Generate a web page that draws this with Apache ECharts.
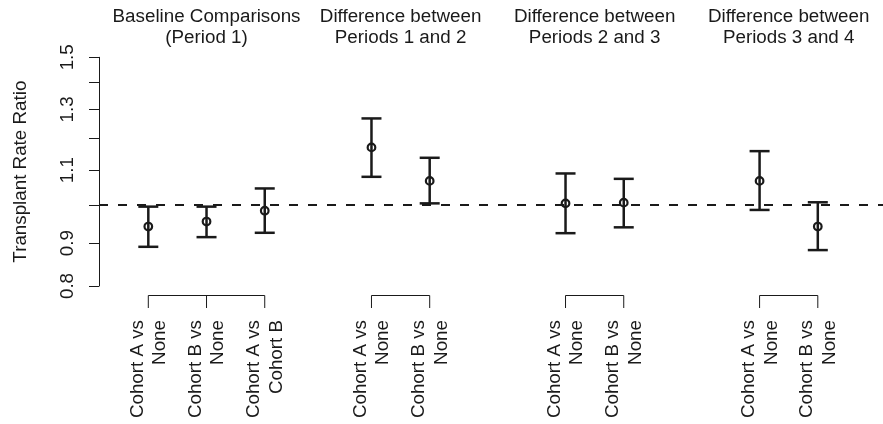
<!DOCTYPE html>
<html>
<head>
<meta charset="utf-8">
<script src="https://cdn.jsdelivr.net/npm/echarts@6/dist/echarts.min.js"></script>
<style>
html,body{margin:0;padding:0;background:#fff;}
#chart{width:883px;height:424px;}
</style>
</head>
<body>
<div id="chart"></div>
<script>
// ---- data ----
const groupTitles = [
  "Baseline Comparisons\n(Period 1)",
  "Difference between\nPeriods 1 and 2",
  "Difference between\nPeriods 2 and 3",
  "Difference between\nPeriods 3 and 4"
];
const comparisons = [
  "Cohort A vs\nNone", "Cohort B vs\nNone", "Cohort A vs\nCohort B",
  "Cohort A vs\nNone", "Cohort B vs\nNone",
  "Cohort A vs\nNone", "Cohort B vs\nNone",
  "Cohort A vs\nNone", "Cohort B vs\nNone"
];
const groupOf = [0, 0, 0, 1, 1, 2, 2, 3, 3];
const estimate = [0.942, 0.955, 0.984, 1.171, 1.068, 1.004, 1.006, 1.068, 0.942];
const lower    = [0.891, 0.915, 0.926, 1.080, 1.004, 0.925, 0.940, 0.986, 0.883];
const upper    = [0.995, 0.995, 1.046, 1.268, 1.138, 1.090, 1.074, 1.159, 1.007];
const yTicks = [0.8, 0.9, 1.0, 1.1, 1.2, 1.3, 1.4, 1.5];
const yTickLabels = [0.8, 0.9, 1.1, 1.3, 1.5];
const refValue = 1.0;

// ---- layout helpers (data space of the x value axis) ----
const groupCenter = groupTitles.map((_, g) => 2 + g * 10 / 3);
const xs = groupOf.map((g, i) => {
  const members = groupOf.map((gg, k) => gg === g ? k : -1).filter(k => k >= 0);
  const j = members.indexOf(i);
  return groupCenter[g] + j - (members.length - 1) / 2;
});
const L = Math.log;
const yMin = L(0.8), yMax = L(1.5);
const ink = '#1a1a1a';
const font = 'Liberation Sans, Arial, Helvetica, sans-serif';
const fs = 18.8;

const chart = echarts.init(document.getElementById('chart'));
chart.setOption({
  animation: false,
  backgroundColor: '#fff',
  grid: { left: 99, right: 0, top: 57.3, bottom: 138, containLabel: false },
  xAxis: {
    type: 'value', min: 0.153, max: 13.62, show: false, splitLine: { show: false }
  },
  yAxis: {
    type: 'value', min: yMin, max: yMax,
    name: 'Transplant Rate Ratio', nameLocation: 'middle', nameGap: 69,
    nameTextStyle: { fontSize: fs, color: ink, fontFamily: font },
    splitLine: { show: false },
    axisLine: { show: true, lineStyle: { color: ink, width: 1 } },
    axisTick: { show: true, length: 10, lineStyle: { color: ink, width: 1 },
      customValues: yTicks.map(L) },
    axisLabel: { show: true, rotate: 90, margin: 22, fontSize: fs, color: ink, fontFamily: font,
      customValues: yTickLabels.map(L),
      formatter: v => Math.exp(v).toFixed(1) }
  },
  series: [
    {
      type: 'custom', name: 'ci', clip: false,
      data: xs.map((x, i) => [x, L(lower[i]), L(upper[i]), L(estimate[i])]),
      encode: { x: 0, y: [1, 2, 3] },
      renderItem: function (params, api) {
        const x = api.value(0);
        const lo = api.coord([x, api.value(1)]);
        const hi = api.coord([x, api.value(2)]);
        const est = api.coord([x, api.value(3)]);
        const hw = 10;
        const st = { stroke: ink, lineWidth: 2.5 };
        return { type: 'group', children: [
          { type: 'line', shape: { x1: lo[0], y1: lo[1], x2: hi[0], y2: hi[1] }, style: st },
          { type: 'line', shape: { x1: lo[0] - hw, y1: lo[1], x2: lo[0] + hw, y2: lo[1] }, style: st },
          { type: 'line', shape: { x1: hi[0] - hw, y1: hi[1], x2: hi[0] + hw, y2: hi[1] }, style: st },
          { type: 'circle', shape: { cx: est[0], cy: est[1], r: 3.8 },
            style: { stroke: ink, lineWidth: 2.2, fill: null } }
        ]};
      },
      z: 3
    },
    {
      type: 'line', name: 'ref', data: [],
      markLine: {
        silent: true, symbol: ['none', 'none'], label: { show: false },
        lineStyle: { color: ink, width: 2.2, type: [9, 10] },
        data: [{ yAxis: L(refValue) }]
      }
    },
    {
      type: 'custom', name: 'brackets', clip: false, silent: true,
      data: groupTitles.map((_, g) => [groupCenter[g], g]),
      encode: { x: 0 },
      renderItem: function (params, api) {
        const g = api.value(1);
        const idx = groupOf.map((gg, k) => gg === g ? k : -1).filter(k => k >= 0);
        const pts = idx.map(k => api.coord([xs[k], yMin]));
        const yb = pts[0][1] + 9.5, yt = pts[0][1] + 22;
        const st = { stroke: ink, lineWidth: 1, fill: null };
        const children = [{ type: 'line', shape: { x1: pts[0][0], y1: yb, x2: pts[pts.length - 1][0], y2: yb }, style: st }];
        pts.forEach(p => children.push({ type: 'line', shape: { x1: p[0], y1: yb, x2: p[0], y2: yt }, style: st }));
        return { type: 'group', children };
      }
    },
    {
      type: 'custom', name: 'xlabels', clip: false, silent: true,
      data: xs.map((x, i) => [x, i]),
      encode: { x: 0 },
      renderItem: function (params, api) {
        const i = api.value(1);
        const p = api.coord([api.value(0), yMin]);
        return {
          type: 'text', x: p[0] + 0.5, y: p[1] + 34, rotation: Math.PI / 2,
          style: { text: comparisons[i], align: 'right', verticalAlign: 'middle',
            fontSize: fs, lineHeight: 22.5, fontFamily: font, fill: ink }
        };
      }
    },
    {
      type: 'custom', name: 'titles', clip: false, silent: true,
      data: groupTitles.map((_, g) => [groupCenter[g], g]),
      encode: { x: 0 },
      renderItem: function (params, api) {
        const g = api.value(1);
        const p = api.coord([api.value(0), yMax]);
        return {
          type: 'text', x: p[0], y: p[1] - 30,
          style: { text: groupTitles[g], align: 'center', verticalAlign: 'middle',
            fontSize: fs, lineHeight: 21.5, fontFamily: font, fill: ink }
        };
      }
    }
  ]
});
</script>
</body>
</html>
